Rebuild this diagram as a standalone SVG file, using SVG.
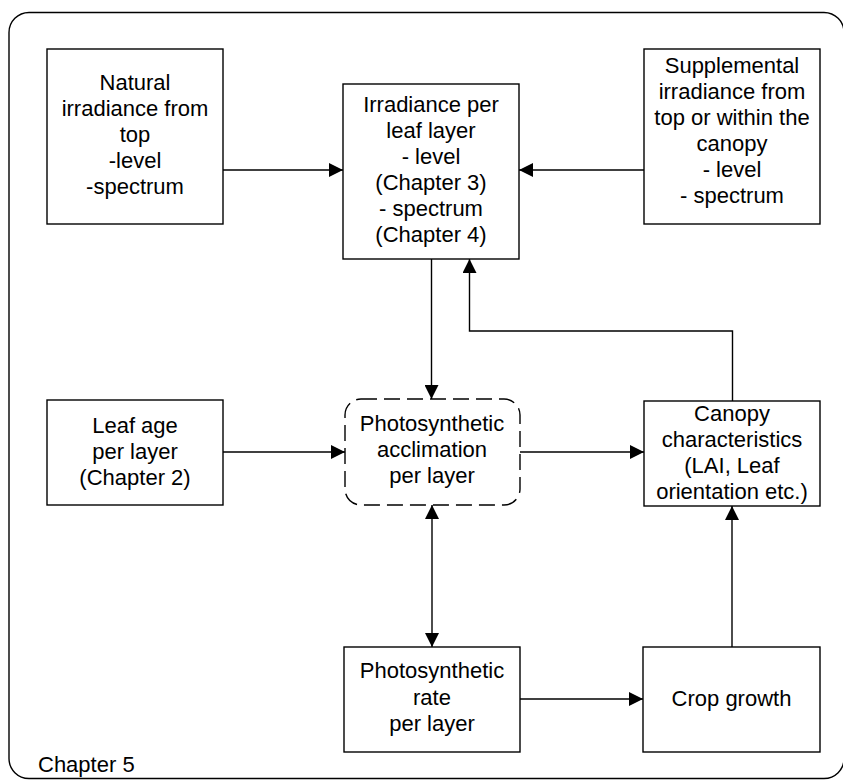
<svg xmlns="http://www.w3.org/2000/svg" width="843" height="780" viewBox="0 0 843 780">
<style>
.box{fill:#fff;stroke:#000;stroke-width:1.4}
.dash{fill:#fff;stroke:#000;stroke-width:1.4;stroke-dasharray:16 7}
.t{font-family:"Liberation Sans",Arial,sans-serif;font-size:22px;fill:#000;text-anchor:middle}
.c{fill:none;stroke:#000;stroke-width:1.4}
</style>
<defs>
<marker id="ah" viewBox="0 0 14 14" refX="14" refY="7" markerWidth="14" markerHeight="14" markerUnits="userSpaceOnUse" orient="auto-start-reverse">
<path d="M0,0 L14,7 L0,14 z" fill="#000"/>
</marker>
</defs>
<rect width="843" height="780" fill="#fff"/>
<rect x="9" y="12.5" width="835" height="766" rx="20" ry="20" fill="none" stroke="#000" stroke-width="1.4"/>
<text class="t" x="38" y="772" style="text-anchor:start">Chapter 5</text>

<g id="connectors">
<line class="c" x1="223" y1="170" x2="343" y2="170" marker-end="url(#ah)"/>
<line class="c" x1="644" y1="170" x2="519" y2="170" marker-end="url(#ah)"/>
<line class="c" x1="431.5" y1="259" x2="431.5" y2="399" marker-end="url(#ah)"/>
<line class="c" x1="223" y1="452" x2="345" y2="452" marker-end="url(#ah)"/>
<line class="c" x1="520" y1="452" x2="644" y2="452" marker-end="url(#ah)"/>
<polyline class="c" points="732.5,401 732.5,331 469.5,331 469.5,259" marker-end="url(#ah)"/>
<line class="c" x1="432" y1="505" x2="432" y2="647" marker-start="url(#ah)" marker-end="url(#ah)"/>
<line class="c" x1="520" y1="699" x2="643" y2="699" marker-end="url(#ah)"/>
<line class="c" x1="732" y1="647" x2="732" y2="506" marker-end="url(#ah)"/>
</g>

<g id="natural">
<rect class="box" x="47" y="49" width="176" height="175"/>
<text class="t" x="135" y="90">Natural</text>
<text class="t" x="135" y="116">irradiance from</text>
<text class="t" x="135" y="142">top</text>
<text class="t" x="135" y="168">-level</text>
<text class="t" x="135" y="194">-spectrum</text>
</g>

<g id="irradiance">
<rect class="box" x="343" y="84" width="176" height="175"/>
<text class="t" x="431" y="112">Irradiance per</text>
<text class="t" x="431" y="138">leaf layer</text>
<text class="t" x="431" y="164">- level</text>
<text class="t" x="431" y="190">(Chapter 3)</text>
<text class="t" x="431" y="216">- spectrum</text>
<text class="t" x="431" y="242">(Chapter 4)</text>
</g>

<g id="supplemental">
<rect class="box" x="644" y="49" width="176" height="175"/>
<text class="t" x="732" y="73">Supplemental</text>
<text class="t" x="732" y="99">irradiance from</text>
<text class="t" x="732" y="125">top or within the</text>
<text class="t" x="732" y="151">canopy</text>
<text class="t" x="732" y="177">- level</text>
<text class="t" x="732" y="203">- spectrum</text>
</g>

<g id="leafage">
<rect class="box" x="47" y="400" width="176" height="105"/>
<text class="t" x="135" y="433">Leaf age</text>
<text class="t" x="135" y="459">per layer</text>
<text class="t" x="135" y="485">(Chapter 2)</text>
</g>

<g id="acclimation">
<rect class="dash" x="345" y="399" width="175" height="106" rx="16" ry="16"/>
<text class="t" x="432" y="431">Photosynthetic</text>
<text class="t" x="432" y="457">acclimation</text>
<text class="t" x="432" y="483">per layer</text>
</g>

<g id="canopy">
<rect class="box" x="644" y="401" width="176" height="105"/>
<text class="t" x="732" y="421">Canopy</text>
<text class="t" x="732" y="447">characteristics</text>
<text class="t" x="732" y="473">(LAI, Leaf</text>
<text class="t" x="732" y="499">orientation etc.)</text>
</g>

<g id="rate">
<rect class="box" x="344" y="647" width="176" height="105"/>
<text class="t" x="432" y="678">Photosynthetic</text>
<text class="t" x="432" y="705">rate</text>
<text class="t" x="432" y="731">per layer</text>
</g>

<g id="cropgrowth">
<rect class="box" x="643" y="647" width="177" height="105"/>
<text class="t" x="731.5" y="706">Crop growth</text>
</g>
</svg>
